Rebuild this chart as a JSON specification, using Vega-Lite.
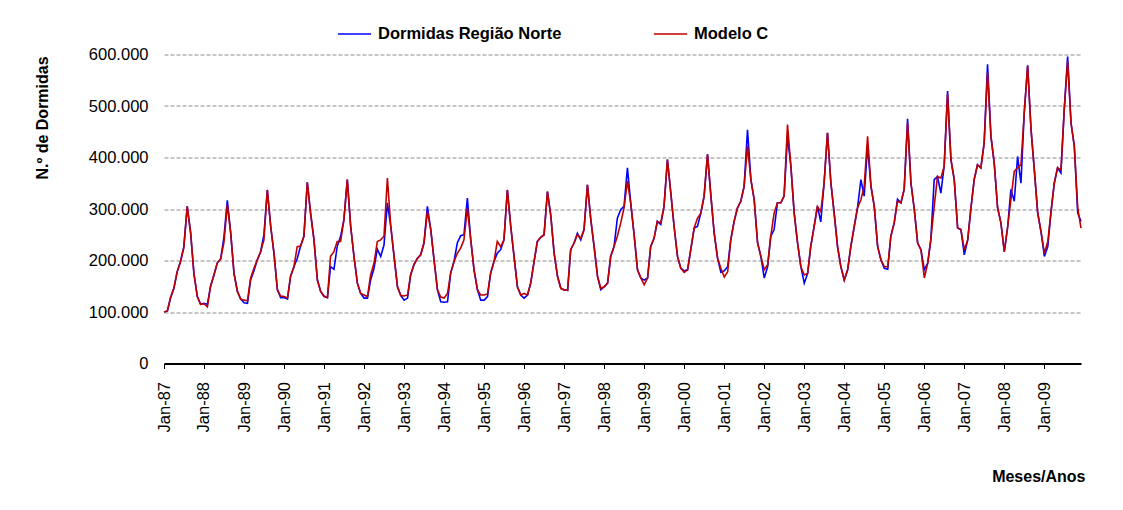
{
"$schema": "https://vega.github.io/schema/vega-lite/v6.json",
"width": 917, "height": 309,
"autosize": {"type": "none"},
"padding": {"left": 164, "top": 54.5, "right": 42, "bottom": 146.5},
"background": "white",
"config": {
 "locale": {"number": {"decimal": ",", "thousands": ".", "grouping": [3], "currency": ["", " €"]}},
 "view": {"stroke": null},
 "font": "Liberation Sans"
},
"data": {"values": [
{"m":"1987-01","o":100000,"c":100000},{"m":"1987-02","o":102000,"c":102000},{"m":"1987-03","o":127000,"c":127000},{"m":"1987-04","o":146000,"c":146000},{"m":"1987-05","o":178000,"c":178000},{"m":"1987-06","o":198000,"c":198000},{"m":"1987-07","o":227000,"c":225000},{"m":"1987-08","o":305000,"c":305000},{"m":"1987-09","o":253000,"c":255000},{"m":"1987-10","o":175000,"c":175000},{"m":"1987-11","o":130000,"c":130000},{"m":"1987-12","o":115000,"c":115000},
{"m":"1988-01","o":117000,"c":116000},{"m":"1988-02","o":115000,"c":110000},{"m":"1988-03","o":150000,"c":150000},{"m":"1988-04","o":172000,"c":172000},{"m":"1988-05","o":195000,"c":195000},{"m":"1988-06","o":203000,"c":203000},{"m":"1988-07","o":245000,"c":235000},{"m":"1988-08","o":317000,"c":308000},{"m":"1988-09","o":253000,"c":253000},{"m":"1988-10","o":175000,"c":175000},{"m":"1988-11","o":140000,"c":140000},{"m":"1988-12","o":125000,"c":125000},
{"m":"1989-01","o":118000,"c":123000},{"m":"1989-02","o":117000,"c":122000},{"m":"1989-03","o":162000,"c":165000},{"m":"1989-04","o":180000,"c":185000},{"m":"1989-05","o":201000,"c":201000},{"m":"1989-06","o":217000,"c":217000},{"m":"1989-07","o":250000,"c":240000},{"m":"1989-08","o":337000,"c":337000},{"m":"1989-09","o":266000,"c":266000},{"m":"1989-10","o":214000,"c":214000},{"m":"1989-11","o":143000,"c":143000},{"m":"1989-12","o":128000,"c":131000},
{"m":"1990-01","o":128000,"c":130000},{"m":"1990-02","o":125000,"c":127000},{"m":"1990-03","o":169000,"c":169000},{"m":"1990-04","o":188000,"c":188000},{"m":"1990-05","o":204000,"c":227000},{"m":"1990-06","o":228000,"c":228000},{"m":"1990-07","o":247000,"c":247000},{"m":"1990-08","o":352000,"c":352000},{"m":"1990-09","o":290000,"c":290000},{"m":"1990-10","o":240000,"c":240000},{"m":"1990-11","o":162000,"c":162000},{"m":"1990-12","o":140000,"c":140000},
{"m":"1991-01","o":130000,"c":131000},{"m":"1991-02","o":128000,"c":128000},{"m":"1991-03","o":188000,"c":208000},{"m":"1991-04","o":183000,"c":217000},{"m":"1991-05","o":227000,"c":237000},{"m":"1991-06","o":247000,"c":237000},{"m":"1991-07","o":279000,"c":279000},{"m":"1991-08","o":357000,"c":357000},{"m":"1991-09","o":266000,"c":266000},{"m":"1991-10","o":208000,"c":208000},{"m":"1991-11","o":156000,"c":156000},{"m":"1991-12","o":136000,"c":136000},
{"m":"1992-01","o":127000,"c":133000},{"m":"1992-02","o":127000,"c":130000},{"m":"1992-03","o":162000,"c":172000},{"m":"1992-04","o":185000,"c":195000},{"m":"1992-05","o":222000,"c":237000},{"m":"1992-06","o":208000,"c":240000},{"m":"1992-07","o":230000,"c":247000},{"m":"1992-08","o":312000,"c":360000},{"m":"1992-09","o":266000,"c":266000},{"m":"1992-10","o":208000,"c":208000},{"m":"1992-11","o":149000,"c":149000},{"m":"1992-12","o":132000,"c":132000},
{"m":"1993-01","o":123000,"c":131000},{"m":"1993-02","o":127000,"c":133000},{"m":"1993-03","o":172000,"c":172000},{"m":"1993-04","o":192000,"c":192000},{"m":"1993-05","o":204000,"c":204000},{"m":"1993-06","o":211000,"c":211000},{"m":"1993-07","o":234000,"c":234000},{"m":"1993-08","o":305000,"c":295000},{"m":"1993-09","o":260000,"c":260000},{"m":"1993-10","o":201000,"c":201000},{"m":"1993-11","o":143000,"c":143000},{"m":"1993-12","o":120000,"c":129000},
{"m":"1994-01","o":119000,"c":127000},{"m":"1994-02","o":120000,"c":136000},{"m":"1994-03","o":175000,"c":175000},{"m":"1994-04","o":198000,"c":198000},{"m":"1994-05","o":234000,"c":214000},{"m":"1994-06","o":248000,"c":224000},{"m":"1994-07","o":250000,"c":240000},{"m":"1994-08","o":321000,"c":302000},{"m":"1994-09","o":240000,"c":240000},{"m":"1994-10","o":182000,"c":182000},{"m":"1994-11","o":143000,"c":143000},{"m":"1994-12","o":123000,"c":133000},
{"m":"1995-01","o":123000,"c":133000},{"m":"1995-02","o":130000,"c":135000},{"m":"1995-03","o":175000,"c":175000},{"m":"1995-04","o":198000,"c":198000},{"m":"1995-05","o":214000,"c":237000},{"m":"1995-06","o":221000,"c":227000},{"m":"1995-07","o":240000,"c":240000},{"m":"1995-08","o":337000,"c":337000},{"m":"1995-09","o":266000,"c":266000},{"m":"1995-10","o":208000,"c":208000},{"m":"1995-11","o":149000,"c":149000},{"m":"1995-12","o":133000,"c":133000},
{"m":"1996-01","o":127000,"c":136000},{"m":"1996-02","o":133000,"c":133000},{"m":"1996-03","o":156000,"c":156000},{"m":"1996-04","o":198000,"c":198000},{"m":"1996-05","o":237000,"c":237000},{"m":"1996-06","o":245000,"c":245000},{"m":"1996-07","o":250000,"c":250000},{"m":"1996-08","o":334000,"c":334000},{"m":"1996-09","o":286000,"c":286000},{"m":"1996-10","o":214000,"c":214000},{"m":"1996-11","o":169000,"c":169000},{"m":"1996-12","o":146000,"c":146000},
{"m":"1997-01","o":143000,"c":143000},{"m":"1997-02","o":142000,"c":142000},{"m":"1997-03","o":221000,"c":221000},{"m":"1997-04","o":234000,"c":234000},{"m":"1997-05","o":253000,"c":250000},{"m":"1997-06","o":240000,"c":243000},{"m":"1997-07","o":260000,"c":260000},{"m":"1997-08","o":347000,"c":347000},{"m":"1997-09","o":279000,"c":279000},{"m":"1997-10","o":227000,"c":227000},{"m":"1997-11","o":169000,"c":169000},{"m":"1997-12","o":143000,"c":146000},
{"m":"1998-01","o":149000,"c":149000},{"m":"1998-02","o":156000,"c":156000},{"m":"1998-03","o":208000,"c":208000},{"m":"1998-04","o":227000,"c":227000},{"m":"1998-05","o":282000,"c":247000},{"m":"1998-06","o":299000,"c":273000},{"m":"1998-07","o":305000,"c":302000},{"m":"1998-08","o":380000,"c":354000},{"m":"1998-09","o":310000,"c":310000},{"m":"1998-10","o":250000,"c":250000},{"m":"1998-11","o":182000,"c":182000},{"m":"1998-12","o":166000,"c":166000},
{"m":"1999-01","o":162000,"c":153000},{"m":"1999-02","o":166000,"c":166000},{"m":"1999-03","o":227000,"c":227000},{"m":"1999-04","o":243000,"c":243000},{"m":"1999-05","o":276000,"c":276000},{"m":"1999-06","o":270000,"c":273000},{"m":"1999-07","o":305000,"c":305000},{"m":"1999-08","o":396000,"c":396000},{"m":"1999-09","o":331000,"c":331000},{"m":"1999-10","o":266000,"c":266000},{"m":"1999-11","o":208000,"c":208000},{"m":"1999-12","o":185000,"c":185000},
{"m":"2000-01","o":180000,"c":177000},{"m":"2000-02","o":182000,"c":182000},{"m":"2000-03","o":221000,"c":221000},{"m":"2000-04","o":263000,"c":263000},{"m":"2000-05","o":266000,"c":282000},{"m":"2000-06","o":292000,"c":292000},{"m":"2000-07","o":325000,"c":325000},{"m":"2000-08","o":406000,"c":406000},{"m":"2000-09","o":325000,"c":325000},{"m":"2000-10","o":253000,"c":253000},{"m":"2000-11","o":204000,"c":204000},{"m":"2000-12","o":177000,"c":185000},
{"m":"2001-01","o":180000,"c":168000},{"m":"2001-02","o":188000,"c":178000},{"m":"2001-03","o":240000,"c":240000},{"m":"2001-04","o":276000,"c":276000},{"m":"2001-05","o":302000,"c":302000},{"m":"2001-06","o":315000,"c":315000},{"m":"2001-07","o":344000,"c":344000},{"m":"2001-08","o":454000,"c":422000},{"m":"2001-09","o":357000,"c":357000},{"m":"2001-10","o":318000,"c":318000},{"m":"2001-11","o":234000,"c":234000},{"m":"2001-12","o":208000,"c":208000},
{"m":"2002-01","o":166000,"c":182000},{"m":"2002-02","o":188000,"c":192000},{"m":"2002-03","o":247000,"c":247000},{"m":"2002-04","o":260000,"c":292000},{"m":"2002-05","o":312000,"c":312000},{"m":"2002-06","o":312000,"c":312000},{"m":"2002-07","o":325000,"c":325000},{"m":"2002-08","o":441000,"c":464000},{"m":"2002-09","o":383000,"c":383000},{"m":"2002-10","o":292000,"c":292000},{"m":"2002-11","o":234000,"c":234000},{"m":"2002-12","o":188000,"c":188000},
{"m":"2003-01","o":156000,"c":172000},{"m":"2003-02","o":175000,"c":175000},{"m":"2003-03","o":227000,"c":227000},{"m":"2003-04","o":266000,"c":266000},{"m":"2003-05","o":305000,"c":305000},{"m":"2003-06","o":275000,"c":295000},{"m":"2003-07","o":350000,"c":350000},{"m":"2003-08","o":448000,"c":448000},{"m":"2003-09","o":351000,"c":351000},{"m":"2003-10","o":292000,"c":292000},{"m":"2003-11","o":227000,"c":227000},{"m":"2003-12","o":188000,"c":188000},
{"m":"2004-01","o":162000,"c":162000},{"m":"2004-02","o":182000,"c":182000},{"m":"2004-03","o":227000,"c":227000},{"m":"2004-04","o":266000,"c":266000},{"m":"2004-05","o":302000,"c":302000},{"m":"2004-06","o":357000,"c":318000},{"m":"2004-07","o":325000,"c":344000},{"m":"2004-08","o":422000,"c":441000},{"m":"2004-09","o":344000,"c":344000},{"m":"2004-10","o":305000,"c":305000},{"m":"2004-11","o":227000,"c":227000},{"m":"2004-12","o":201000,"c":201000},
{"m":"2005-01","o":185000,"c":188000},{"m":"2005-02","o":183000,"c":188000},{"m":"2005-03","o":247000,"c":247000},{"m":"2005-04","o":273000,"c":273000},{"m":"2005-05","o":319000,"c":315000},{"m":"2005-06","o":312000,"c":312000},{"m":"2005-07","o":338000,"c":338000},{"m":"2005-08","o":475000,"c":467000},{"m":"2005-09","o":350000,"c":350000},{"m":"2005-10","o":300000,"c":300000},{"m":"2005-11","o":234000,"c":234000},{"m":"2005-12","o":221000,"c":221000},
{"m":"2006-01","o":182000,"c":166000},{"m":"2006-02","o":195000,"c":195000},{"m":"2006-03","o":240000,"c":240000},{"m":"2006-04","o":357000,"c":305000},{"m":"2006-05","o":363000,"c":363000},{"m":"2006-06","o":331000,"c":360000},{"m":"2006-07","o":383000,"c":383000},{"m":"2006-08","o":529000,"c":523000},{"m":"2006-09","o":396000,"c":396000},{"m":"2006-10","o":357000,"c":357000},{"m":"2006-11","o":263000,"c":263000},{"m":"2006-12","o":260000,"c":260000},
{"m":"2007-01","o":211000,"c":221000},{"m":"2007-02","o":240000,"c":240000},{"m":"2007-03","o":299000,"c":299000},{"m":"2007-04","o":357000,"c":357000},{"m":"2007-05","o":386000,"c":386000},{"m":"2007-06","o":380000,"c":380000},{"m":"2007-07","o":428000,"c":428000},{"m":"2007-08","o":581000,"c":565000},{"m":"2007-09","o":441000,"c":441000},{"m":"2007-10","o":389000,"c":389000},{"m":"2007-11","o":302000,"c":302000},{"m":"2007-12","o":273000,"c":273000},
{"m":"2008-01","o":217000,"c":217000},{"m":"2008-02","o":266000,"c":266000},{"m":"2008-03","o":338000,"c":318000},{"m":"2008-04","o":315000,"c":373000},{"m":"2008-05","o":402000,"c":380000},{"m":"2008-06","o":350000,"c":386000},{"m":"2008-07","o":487000,"c":487000},{"m":"2008-08","o":579000,"c":578000},{"m":"2008-09","o":454000,"c":454000},{"m":"2008-10","o":376000,"c":376000},{"m":"2008-11","o":292000,"c":292000},{"m":"2008-12","o":256000,"c":256000},
{"m":"2009-01","o":208000,"c":214000},{"m":"2009-02","o":227000,"c":237000},{"m":"2009-03","o":292000,"c":292000},{"m":"2009-04","o":350000,"c":350000},{"m":"2009-05","o":380000,"c":380000},{"m":"2009-06","o":370000,"c":376000},{"m":"2009-07","o":493000,"c":493000},{"m":"2009-08","o":596000,"c":587000},{"m":"2009-09","o":467000,"c":467000},{"m":"2009-10","o":422000,"c":422000},{"m":"2009-11","o":292000,"c":302000},{"m":"2009-12","o":276000,"c":263000}
]},
"transform": [{"fold": ["o", "c"], "as": ["serie", "valor"]}],
"mark": {"type": "line", "strokeWidth": 1.6, "interpolate": "linear"},
"encoding": {
 "x": {"field": "m", "type": "temporal",
  "scale": {"type": "utc", "nice": false, "domain": [{"year": 1987, "month": 1, "date": 1, "utc": true}, {"year": 2009, "month": 12, "date": 1, "utc": true}]},
  "axis": {"title": "Meses/Anos", "labelExpr": "utcFormat(datum.value, '%b-%y')", "tickCount": {"interval": "year", "step": 1},
   "labelAngle": 270, "labelAlign": "right", "labelBaseline": "middle", "labelFontSize": 16.5, "labelColor": "black", "labelPadding": 13,
   "labelFlush": false, "labelOverlap": false, "labelBound": false,
   "tickColor": "black", "tickSize": 5, "tickWidth": 1, "domainColor": "black", "domainWidth": 2, "grid": false,
   "titleFontSize": 16, "titleFontWeight": "bold", "titleColor": "black", "titleX": 921, "titleY": 113, "titleAlign": "right", "titleBaseline": "middle", "titleAnchor": null}},
 "y": {"field": "valor", "type": "quantitative",
  "scale": {"domain": [0, 600000], "nice": false, "zero": true},
  "axis": {"title": "N.º de Dormidas", "values": [0, 100000, 200000, 300000, 400000, 500000, 600000], "format": ",d",
   "domain": false, "ticks": false, "grid": true, "gridDash": [4, 2], "gridColor": "#8c8c8c", "gridWidth": 1,
   "labelFontSize": 16.5, "labelColor": "black", "labelPadding": 16,
   "titleFontSize": 16, "titleFontWeight": "bold", "titleColor": "black", "titleAngle": 270, "titleX": -122, "titleY": 63, "titleAlign": "center", "titleBaseline": "middle"}},
 "color": {"field": "serie", "type": "nominal",
  "scale": {"domain": ["o", "c"], "range": ["#0000FF", "#C00000"]},
  "legend": {"orient": "none", "legendX": 173, "legendY": -38, "direction": "horizontal", "title": null, "padding": 0,
   "symbolType": "stroke", "symbolSize": 1100, "symbolStrokeWidth": 1.6,
   "labelFontSize": 16.5, "labelFontWeight": "bold", "labelColor": "black", "labelOffset": 6, "labelLimit": 400, "columnPadding": 88,
   "labelExpr": "datum.label == 'o' ? 'Dormidas Região Norte' : 'Modelo C'"}}
}
}
